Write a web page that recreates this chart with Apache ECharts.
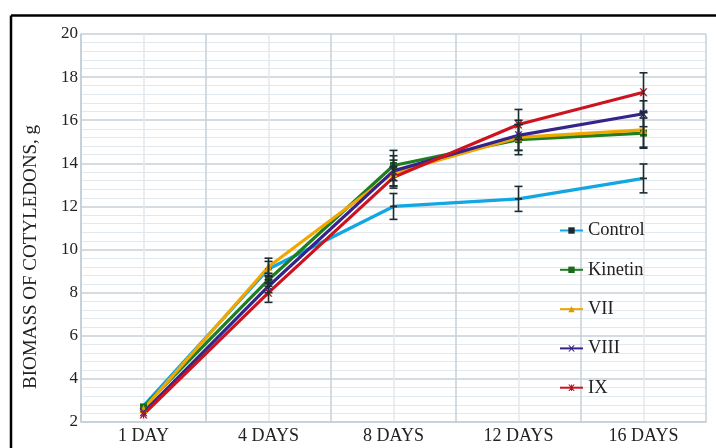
<!DOCTYPE html>
<html>
<head>
<meta charset="utf-8">
<style>
  html, body { margin: 0; padding: 0; background: #fff; }
  #chart { width: 716px; height: 448px; }
</style>
<script src="https://cdn.jsdelivr.net/npm/echarts@6/dist/echarts.min.js"></script>
</head>
<body>
<div id="chart"></div>
<script>
// Sampling days
const categories = ['1 DAY', '4 DAYS', '8 DAYS', '12 DAYS', '16 DAYS'];

// Mean biomass of cotyledons, g
const control = [2.75, 9.1, 12.0, 12.35, 13.3];
const kinetin = [2.7, 8.6, 13.9, 15.1, 15.4];
const vii     = [2.6, 9.2, 13.55, 15.2, 15.55];
const viii    = [2.45, 8.3, 13.65, 15.3, 16.3];
const ix      = [2.35, 8.0, 13.35, 15.8, 17.3];

// Standard deviations (± error)
const controlErr = [0, 0.35, 0.6, 0.58, 0.67];
const kinetinErr = [0, 0.3, 0.7, 0.7, 0.7];
const viiErr     = [0, 0.4, 0.6, 0.6, 0.8];
const viiiErr    = [0, 0.3, 0.7, 0.7, 0.6];
const ixErr      = [0, 0.45, 0.5, 0.7, 0.9];

// Value axis ticks
const yMin = 2, yMax = 20, yStep = 2;

const FONT = '"Liberation Serif", "DejaVu Serif", serif';

const DASH = 'path://M0,0 L10,0 L10,2.4 L0,2.4 Z';
const CROSS = 'path://M0,0 L2,0 L5,3.6 L8,0 L10,0 L6,5 L10,10 L8,10 L5,6.4 L2,10 L0,10 L4,5 Z';
const STAR = CROSS + ' M4.3,0 L5.7,0 L5.7,10 L4.3,10 Z';

const groups = [
  { name: 'Control', values: control, err: controlErr, color: '#12a6e2',
    symbol: DASH, symbolSize: 7, markColor: '#1b2b2b' },
  { name: 'Kinetin', values: kinetin, err: kinetinErr, color: '#1f7d22',
    symbol: 'rect', symbolSize: 7, markColor: '#1a6a1c' },
  { name: 'VII', values: vii, err: viiErr, color: '#f0a800',
    symbol: 'triangle', symbolSize: 8, markColor: '#e09a00' },
  { name: 'VIII', values: viii, err: viiiErr, color: '#35248a',
    symbol: CROSS, symbolSize: 8, markColor: '#35248a' },
  { name: 'IX', values: ix, err: ixErr, color: '#cc1420',
    symbol: STAR, symbolSize: 8, markColor: '#b0101a' }
];

const lineSeries = groups.map(g => ({
  name: g.name,
  type: 'line',
  xAxisIndex: 0,
  yAxisIndex: 0,
  data: g.values,
  symbol: g.symbol,
  symbolSize: g.symbolSize,
  symbolKeepAspect: true,
  showAllSymbol: true,
  lineStyle: { color: g.color, width: 3.2 },
  itemStyle: { color: g.markColor, borderWidth: 0 },
  emphasis: { disabled: true },
  z: 3
}));

// Vertical error bars with caps
const errorSeries = groups.map(g => ({
  type: 'custom',
  xAxisIndex: 0,
  yAxisIndex: 0,
  silent: true,
  z: 5,
  data: g.values.map((v, i) => [i, v - g.err[i], v + g.err[i]]),
  renderItem: function (params, api) {
    const lo = api.value(1), hi = api.value(2);
    if (hi - lo <= 0) return null;
    const pLo = api.coord([api.value(0), lo]);
    const pHi = api.coord([api.value(0), hi]);
    const cap = 4;
    const style = { stroke: '#1c2c30', lineWidth: 1.6 };
    return {
      type: 'group',
      children: [
        { type: 'line', shape: { x1: pLo[0], y1: pLo[1], x2: pHi[0], y2: pHi[1] }, style },
        { type: 'line', shape: { x1: pLo[0] - cap, y1: pLo[1], x2: pLo[0] + cap, y2: pLo[1] }, style },
        { type: 'line', shape: { x1: pHi[0] - cap, y1: pHi[1], x2: pHi[0] + cap, y2: pHi[1] }, style }
      ]
    };
  }
}));

const chart = echarts.init(document.getElementById('chart'), null, { renderer: 'canvas' });

chart.setOption({
  backgroundColor: '#ffffff',
  animation: false,
  grid: { left: 81, right: 10, top: 34, bottom: 26, containLabel: false },
  xAxis: [
    {
      type: 'category',
      data: categories,
      boundaryGap: true,
      axisLine: { show: true, lineStyle: { color: '#c3ced6', width: 1.5 } },
      axisTick: { show: false },
      axisLabel: { color: '#222', fontFamily: FONT, fontSize: 18, margin: 5 },
      splitLine: { show: false }
    },
    {
      // half-step grid: category boundaries and centres
      type: 'value',
      min: 0, max: 10, interval: 1,
      show: true,
      position: 'bottom',
      axisLine: { show: false },
      axisTick: { show: false },
      axisLabel: { show: false },
      splitLine: { show: true, lineStyle: { color: ['#c6d1d9', '#e2e9ee'], width: 1.5 } }
    }
  ],
  yAxis: {
    type: 'value',
    min: yMin, max: yMax, interval: yStep,
    axisLine: { show: true, lineStyle: { color: '#c3ced6', width: 1.5 } },
    axisTick: { show: false },
    axisLabel: { color: '#222', fontFamily: FONT, fontSize: 17, margin: 3 },
    splitLine: { show: true, lineStyle: { color: '#c6d1d9', width: 1.5 } },
    minorTick: { show: false, splitNumber: 5 },
    minorSplitLine: { show: true, lineStyle: { color: '#e2e9ee', width: 1.2 } }
  },
  legend: {
    orient: 'vertical',
    left: 554,
    top: 216,
    itemWidth: 23,
    itemHeight: 8,
    itemGap: 20.3,
    textStyle: { fontFamily: FONT, fontSize: 18.5, color: '#222' },
    data: groups.map(g => g.name)
  },
  graphic: [
    { type: 'line', shape: { x1: 11, y1: 15.5, x2: 716, y2: 15.5 }, style: { stroke: '#000', lineWidth: 2.5 }, z: 10 },
    { type: 'line', shape: { x1: 11, y1: 15.5, x2: 11, y2: 448 }, style: { stroke: '#000', lineWidth: 2.5 }, z: 10 },
    {
      type: 'text',
      x: 31, y: 257,
      rotation: Math.PI / 2,
      style: {
        text: 'BIOMASS OF COTYLEDONS, g',
        fontFamily: FONT, fontSize: 19, fill: '#222',
        textAlign: 'center', textVerticalAlign: 'middle'
      }
    }
  ],
  series: lineSeries.concat(errorSeries)
});
</script>
</body>
</html>
